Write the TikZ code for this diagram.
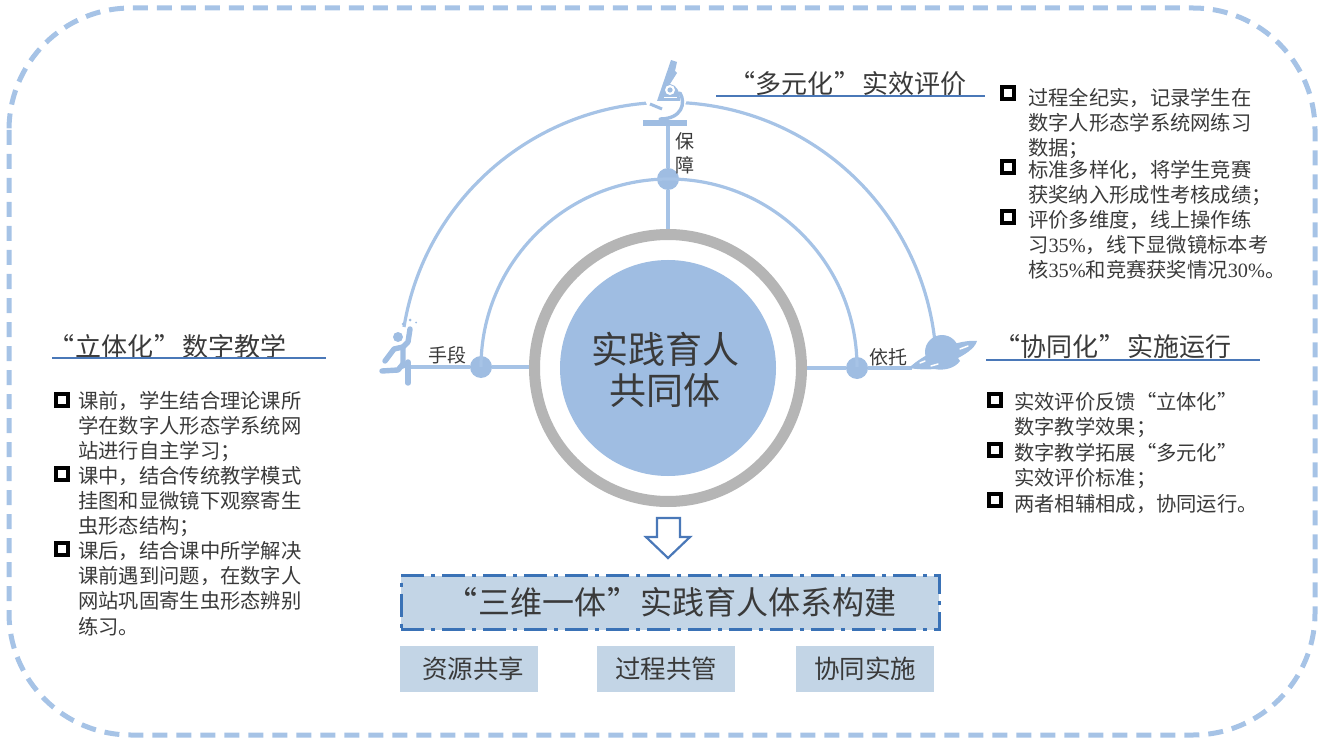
\documentclass[tikz,border=0pt]{standalone}
\usepackage{fontspec}
\setmainfont{Noto Sans CJK SC}
\newfontfamily\digfont{Liberation Serif}
\usetikzlibrary{calc}
\definecolor{lineblue}{HTML}{A6C3E6}
\definecolor{fillblue}{HTML}{9FBDE2}
\definecolor{boxblue}{HTML}{C3D5E6}
\definecolor{headblue}{HTML}{4A78B8}
\definecolor{dashblue}{HTML}{3A72B6}
\definecolor{ringgrey}{HTML}{B5B5B5}
\definecolor{txt}{HTML}{3A3A3A}
\newcommand{\fsz}[2]{\fontsize{#1pt}{#2pt}\selectfont}
\newcommand{\qlft}{\hspace{1.5pt}“\hspace{1pt}}
\newcommand{\qrgt}{\hspace{1pt}”\hspace{1.5pt}}
\newcommand{\dg}[1]{{\digfont #1}}
\tikzset{
  link/.style={draw=lineblue,line width=3.2pt},
  dot/.style={circle,fill=fillblue,minimum size=22pt,inner sep=0pt},
  headline/.style={draw=headblue,line width=2pt},
  headtext/.style={text=txt,font=\fsz{26}{30},inner sep=0pt},
  bodytext/.style={text=txt,font=\fsz{20.3}{25.2},inner sep=0pt,align=left,anchor=north west},
  smalllabel/.style={text=txt,font=\fsz{19}{24},inner sep=0pt},
  bullet/.style={draw=black,line width=4pt,fill=white,minimum size=12pt,inner sep=0pt},
  subbox/.style={fill=boxblue,text=txt,font=\fsz{25.5}{30},minimum width=138pt,minimum height=46pt,inner sep=0pt},
  icon/.style={fill=fillblue,draw=none},
  limb/.style={draw=fillblue,line width=5.4pt,line cap=round,line join=round},
}
\begin{document}
\begin{tikzpicture}[x=1pt,y=-1pt]
\useasboundingbox (0,0) rectangle (1323,738);
% frame
\draw[draw=lineblue,line width=5pt,dash pattern=on 15pt off 9pt,rounded corners=122pt] (9,8) rectangle (1315,735);
% coordinates
\coordinate (c) at (668,368);
\node[dot] (dtop) at (668,179) {};
\node[dot] (dleft) at (481,367) {};
\node[dot] (dright) at (857,368) {};
\coordinate (mic) at (668,124);
\coordinate (ringtop) at (668,235);
\coordinate (ringl) at (535,367);
\coordinate (ringr) at (802,368);
\coordinate (pers) at (408,367);
\coordinate (plan) at (912,368);
\coordinate (hand) at (404,327);
% arcs
\draw[link] (dleft.center) arc[start angle=180,end angle=360,radius=188];
\draw[link] (hand) arc[start angle=189.3,end angle=354,radius=268];
% spokes
\draw[link] (mic) -- (dtop);
\draw[link] (dtop) -- (ringtop);
\draw[link] (pers) -- (dleft);
\draw[link] (dleft) -- (ringl);
\draw[link] (ringr) -- (dright);
\draw[link] (dright) -- (plan);
% centre
\node[circle,draw=ringgrey,line width=11pt,minimum size=267pt,inner sep=0pt,fill=white] (ring) at (c) {};
\node[circle,fill=fillblue,minimum size=216pt,inner sep=0pt] (core) at (c) {};
\node[align=center,text=txt,font=\fsz{37}{41},inner sep=0pt] (coretext) at (665,370) {实践育人\\共同体};
% microscope
\fill[white] (666,96) circle (21pt);
\draw[icon] (671,60) -- (677,62) -- (675,71) -- (677,73) -- (670,84) .. controls (677,85) and (680,92) .. (680,101) -- (657,101) -- cycle;
\fill[white] (670,90) circle (5pt);
\fill[fillblue] (670,90) circle (2.6pt);
\draw[draw=white,line width=1.6pt] (664,97.5) -- (677,97.5);
\draw[draw=fillblue,line width=3.4pt,line cap=round] (680,93) .. controls (686,103) and (682,119) .. (660,119);
\draw[draw=fillblue,line width=3pt] (650,104) -- (662,109);
\fill[fillblue] (643,120) rectangle (687,126);
% person
\fill[fillblue] (398,337) circle (5pt);
\draw[limb] (410,329) -- (408,342) -- (403,347) -- (403,366);
\draw[limb] (403,347) -- (394,349) -- (385,361);
\draw[limb] (382,371) -- (398,370) -- (403,364);
\draw[limb] (408,362) -- (408,383);
\fill[fillblue] (403,324) circle (1.5pt) (410,320) circle (1.5pt) (416,322.5) circle (1pt);
% planet
\draw[icon] (909,368) .. controls (925,352) and (960,339) .. (977,341) .. controls (975,349) and (962,356) .. (958,358) -- (960,361) .. controls (955,368) and (945,371) .. (934,369) .. controls (925,370) and (915,369) .. (909,368) -- cycle;
\fill[fillblue] (942,352) circle (17pt);
\draw[draw=white,line width=1.5pt,line cap=round] (920,363) -- (925,361);
\draw[draw=white,line width=1.5pt,line cap=round] (931,366) -- (938,364);
\draw[draw=white,line width=1.5pt,line cap=round] (960,349) -- (968,346);
% small labels
\node[smalllabel] (lbao) at (685,141) {保};
\node[smalllabel] (lzhang) at (685,165) {障};
\node[smalllabel] (lshou) at (447,355) {手段};
\node[smalllabel] (lyi) at (888,357) {依托};
% headers
\node[headtext] (h1) at (847,84) {\qlft 多元化\qrgt 实效评价};
\coordinate (h1a) at (716,96); \coordinate (h1b) at (985,96);
\draw[headline] (h1a) -- (h1b);
\node[headtext] (h2) at (167,347) {\qlft 立体化\qrgt 数字教学};
\coordinate (h2a) at (52,358); \coordinate (h2b) at (326,358);
\draw[headline] (h2a) -- (h2b);
\node[headtext] (h3) at (1112,347) {\qlft 协同化\qrgt 实施运行};
\coordinate (h3a) at (986,360); \coordinate (h3b) at (1260,360);
\draw[headline] (h3a) -- (h3b);
% right upper
\node[bullet] (b1) at (1008,93) {};
\node[bodytext] (t1) at (1028,88) {过程全纪实，记录学生在\\数字人形态学系统网练习\\数据；};
\node[bullet] (b2) at (1008,167) {};
\node[bodytext] (t2) at (1028,160) {标准多样化，将学生竞赛\\获奖纳入形成性考核成绩；};
\node[bullet] (b3) at (1008,217) {};
\node[bodytext] (t3) at (1028,210) {评价多维度，线上操作练\\习\dg{35\%}，线下显微镜标本考\\核\dg{35\%}和竞赛获奖情况\dg{30\%}。};
% right lower
\node[bullet] (b4) at (995,400) {};
\node[bodytext] (t4) at (1014,392) {实效评价反馈“立体化”\\数字教学效果；};
\node[bullet] (b5) at (995,450) {};
\node[bodytext] (t5) at (1014,443) {数字教学拓展“多元化”\\实效评价标准；};
\node[bullet] (b6) at (995,500) {};
\node[bodytext] (t6) at (1014,494) {两者相辅相成，协同运行。};
% left
\node[bullet] (b7) at (62,400) {};
\node[bodytext] (t7) at (78,391) {课前，学生结合理论课所\\学在数字人形态学系统网\\站进行自主学习；};
\node[bullet] (b8) at (62,474) {};
\node[bodytext] (t8) at (78,466) {课中，结合传统教学模式\\挂图和显微镜下观察寄生\\虫形态结构；};
\node[bullet] (b9) at (62,549) {};
\node[bodytext] (t9) at (78,541) {课后，结合课中所学解决\\课前遇到问题，在数字人\\网站巩固寄生虫形态辨别\\练习。};
% arrow
\draw[draw=headblue,line width=2.2pt,fill=white,line join=miter] (657,518) -- (680,518) -- (680,537) -- (690,537) -- (668,558) -- (646,537) -- (657,537) -- cycle;
% main box
\node[fill=boxblue,draw=dashblue,line width=3pt,dash pattern=on 23pt off 7pt on 4pt off 7pt,minimum width=538pt,minimum height=54pt,inner sep=0pt,text=txt,font=\fsz{32}{36}] (mainbox) at (670,602.5) {\hspace{1pt}\qlft 三维一体\qrgt 实践育人体系构建};
% sub boxes
\node[subbox] (s1) at (469,669) {\hspace*{8pt}资源共享};
\node[subbox] (s2) at (666,669) {过程共管};
\node[subbox] (s3) at (865,669) {协同实施};
\end{tikzpicture}
\end{document}
